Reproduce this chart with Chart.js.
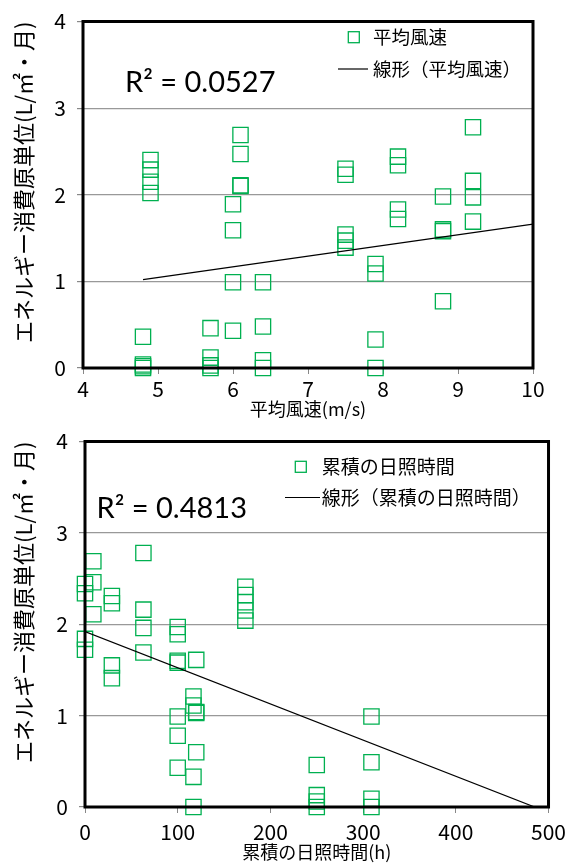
<!DOCTYPE html>
<html><head><meta charset="utf-8">
<script src="https://cdn.jsdelivr.net/npm/chart.js@4"></script>
<style>
html,body{margin:0;padding:0;background:#fff;}
#wrap{position:relative;width:575px;height:863px;overflow:hidden;background:#fff;}
canvas{position:absolute;left:0;}
</style></head><body>
<div id="wrap">
<canvas id="c1" width="575" height="420" style="top:0;width:575px;height:420px"></canvas>
<canvas id="c2" width="575" height="443" style="top:420px;width:575px;height:443px"></canvas>
</div>
<script>
// ---- data ----
const windSpeed = [4.8,4.8,4.8,4.8, 4.9,4.9,4.9,4.9, 5.7,5.7,5.7,5.7, 6.0,6.0,6.0,6.0, 6.1,6.1,6.1,6.1, 6.4,6.4,6.4,6.4, 7.5,7.5,7.5,7.5,7.5, 7.9,7.9,7.9,7.9, 8.2,8.2,8.2,8.2, 8.8,8.8,8.8,8.8, 9.2,9.2,9.2,9.2];
const windEnergy = [0.36,0.04,0.02,0.0, 2.40,2.29,2.15,2.02, 0.46,0.12,0.03,0.0, 1.89,1.59,0.99,0.43, 2.69,2.47,2.11,2.10, 0.99,0.48,0.09,0.0, 2.30,2.23,1.54,1.47,1.39, 1.20,1.09,0.33,0.0, 2.44,2.34,1.83,1.72, 1.98,1.60,1.58,0.77, 2.78,2.16,1.97,1.69];
const sunHours = [0,0,0,0, 9,9,9, 29,29,29,29, 63,63,63,63, 100,100,100,100,100,100,100, 117,117,117,117, 120,120,120,120, 173,173,173,173,173, 250,250,250,250, 309,309,309,309];
const sunEnergy = [2.44,2.34,1.84,1.72, 2.69,2.46,2.11, 2.31,2.23,1.55,1.41, 2.78,2.16,1.96,1.69, 1.97,1.89,1.60,1.58,0.99,0.78,0.43, 1.21,1.11,0.33,0.0, 1.61,1.04,1.03,0.60, 2.41,2.32,2.24,2.15,2.04, 0.46,0.13,0.06,0.0, 0.99,0.49,0.09,0.0];
const windTrendX = [4.8, 10];
const windTrendY = [1.02, 1.66];
const sunTrendX = [0, 485];
const sunTrendY = [1.92, 0];
const windTicks = [4,5,6,7,8,9,10];
const sunTicks = [0,100,200,300,400,500];
const energyTicks = [0,1,2,3,4];
const windLabel = '平均風速';
const sunLabel = '累積の日照時間';
const windTrendLabel = '線形（平均風速）';
const sunTrendLabel = '線形（累積の日照時間）';
const windR2 = 'R² = 0.0527';
const sunR2 = 'R² = 0.4813';
const energyTitle = 'エネルギー消費原単位(L/㎡・月)';
const windTitle = '平均風速(m/s)';
const sunTitle = '累積の日照時間(h)';

const GREEN = '#00B050';
const CJK = "'Noto Sans CJK JP', sans-serif";
const NUM = "'Liberation Sans Narrow', 'Noto Sans CJK JP', sans-serif";

function pairs(xs, ys) { return xs.map((x, i) => ({x: x, y: ys[i]})); }

function overlayPlugin(o) {
  return {
    id: 'overlay',
    afterDatasetsDraw(chart) {
      const ctx = chart.ctx, a = chart.chartArea;
      ctx.save();
      ctx.strokeStyle = '#000';
      ctx.lineWidth = 3;
      ctx.strokeRect(a.left, a.top, a.right - a.left, a.bottom - a.top);
      // R squared
      ctx.fillStyle = '#000';
      ctx.font = '29px Lato, "Open Sans", sans-serif';
      ctx.textAlign = 'left';
      ctx.textBaseline = 'alphabetic';
      ctx.fillText(o.r2, o.r2x, o.r2y);
      // legend
      const ds = chart.data.datasets;
      ctx.strokeStyle = GREEN;
      ctx.lineWidth = 1.3;
      ctx.strokeRect(o.mx - 5.5, o.my - 5.5, 11, 11);
      ctx.strokeStyle = '#000';
      ctx.lineWidth = 1.2;
      ctx.beginPath();
      ctx.moveTo(o.lx1, o.ly); ctx.lineTo(o.lx2, o.ly);
      ctx.stroke();
      ctx.fillStyle = '#000';
      ctx.font = o.lfont + 'px ' + CJK;
      ctx.textBaseline = 'middle';
      ctx.fillText(ds[0].label, o.tx, o.my);
      ctx.fillText(ds[1].label, o.tx, o.ly);
      ctx.restore();
    }
  };
}

function makeChart(id, xs, ys, tx, ty, xTicks, xMin, xMax, labels, o) {
  return new Chart(document.getElementById(id), {
    type: 'scatter',
    data: {
      datasets: [
        { label: labels[0], data: pairs(xs, ys), pointStyle: 'rect', pointRadius: 10.8,
          borderColor: GREEN, backgroundColor: 'rgba(0,0,0,0)', borderWidth: 1.3, clip: false, order: 2 },
        { label: labels[1], type: 'line', data: pairs(tx, ty), showLine: true, pointRadius: 0,
          borderColor: '#000', borderWidth: 1.2, fill: false, order: 1 }
      ]
    },
    options: {
      responsive: false, animation: false, devicePixelRatio: 1,
      layout: { padding: { left: 0, top: o.padTop, right: o.padRight, bottom: 0 } },
      plugins: { legend: { display: false }, tooltip: { enabled: false } },
      scales: {
        x: {
          type: 'linear', min: xMin, max: xMax,
          afterBuildTicks: s => { s.ticks = xTicks.map(v => ({ value: v })); },
          afterFit: s => { s.height = o.xh; },
          grid: { display: true, drawOnChartArea: false, drawTicks: true, tickLength: 6, tickColor: '#888', lineWidth: 1 },
          border: { display: false },
          ticks: { color: '#000', padding: o.xpad, maxRotation: 0, font: { family: NUM, size: 21, lineHeight: 1.0 } },
          title: { display: true, text: labels[2], color: '#000', padding: { top: 0, bottom: 0 },
                   font: { family: CJK, size: 18, lineHeight: 1.2 } }
        },
        y: {
          type: 'linear', min: 0, max: 4,
          afterBuildTicks: s => { s.ticks = energyTicks.map(v => ({ value: v })); },
          afterFit: s => { s.width = o.yw; },
          grid: { display: true, drawOnChartArea: true, drawTicks: true, tickLength: 6, color: '#999', tickColor: '#888', lineWidth: 1.2 },
          border: { display: false },
          ticks: { color: '#000', padding: 11, font: { family: NUM, size: 21, lineHeight: 1.0 } },
          title: { display: true, text: energyTitle, color: '#000', align: 'end', padding: { top: 10, bottom: 0 },
                   font: { family: CJK, size: 22, lineHeight: 1.2 } }
        }
      }
    },
    plugins: [overlayPlugin(o)]
  });
}

makeChart('c1', windSpeed, windEnergy, windTrendX, windTrendY, windTicks, 4, 10,
  [windLabel, windTrendLabel, windTitle],
  { padTop: 12.6, padRight: 42, xh: 52, yw: 83, xpad: 5,
    r2: windR2, r2x: 125, r2y: 91.5,
    mx: 353.8, my: 37.2, lx1: 338, lx2: 368, ly: 69, tx: 373, lfont: 18.5 });

makeChart('c2', sunHours, sunEnergy, sunTrendX, sunTrendY, sunTicks, 0, 500,
  [sunLabel, sunTrendLabel, sunTitle],
  { padTop: 21, padRight: 26, xh: 56, yw: 85, xpad: 9,
    r2: sunR2, r2x: 96.5, r2y: 98.3,
    mx: 300.8, my: 46.8, lx1: 285, lx2: 320, ly: 77.5, tx: 321.7, lfont: 19 });
</script>
</body></html>
